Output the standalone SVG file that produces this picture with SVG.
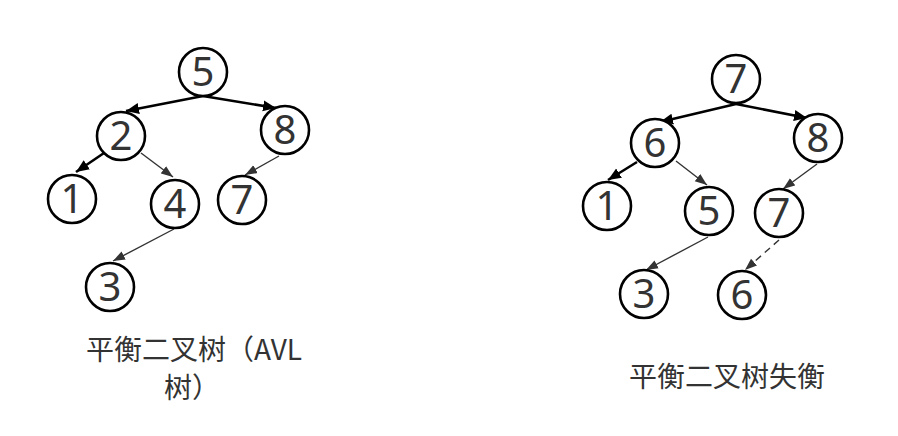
<svg xmlns="http://www.w3.org/2000/svg" width="898" height="436" viewBox="0 0 898 436">
<style>
.n circle{fill:#fff;stroke:#000;stroke-width:2.6}
.n text{font-family:"Noto Sans","Open Sans",sans-serif;font-size:40px;fill:#333;text-anchor:middle}
.thick{stroke:#000;stroke-width:2.6;fill:none;marker-end:url(#ak)}
.thin{stroke:#333;stroke-width:1.4;fill:none;marker-end:url(#ag)}
.dash{stroke-dasharray:7,5}
.lbl{font-family:"Noto Sans CJK SC","Noto Sans",sans-serif;font-size:28px;fill:#333;text-anchor:middle}
</style>
<defs>
<marker id="ak" markerUnits="userSpaceOnUse" markerWidth="14" markerHeight="12" refX="13" refY="6" orient="auto" viewBox="0 0 14 12"><path d="M0,0.5 L13,6 L0,11.5 z" fill="#000"/></marker>
<marker id="ag" markerUnits="userSpaceOnUse" markerWidth="13" markerHeight="10" refX="12" refY="5" orient="auto" viewBox="0 0 13 10"><path d="M0,0.5 L12,5 L0,9.5 z" fill="#333"/></marker>
</defs>
<rect width="898" height="436" fill="#fff"/>
<g id="connectors">
<line class="thick" x1="203" y1="96" x2="126" y2="111"/>
<line class="thick" x1="203" y1="96" x2="276" y2="108"/>
<line class="thick" x1="104" y1="153" x2="76" y2="172"/>
<line class="thin" x1="141" y1="153" x2="173" y2="177"/>
<line class="thin" x1="279" y1="156" x2="245" y2="175"/>
<line class="thin" x1="174" y1="229" x2="113" y2="261"/>
<line class="thick" x1="736" y1="104" x2="660" y2="122"/>
<line class="thick" x1="736" y1="104" x2="807" y2="118"/>
<line class="thick" x1="637" y1="162" x2="608" y2="180"/>
<line class="thin" x1="676" y1="161" x2="707" y2="185"/>
<line class="thin" x1="817" y1="164" x2="783" y2="189"/>
<line class="thin dash" x1="779" y1="240" x2="745" y2="270"/>
<line class="thin" x1="708" y1="237" x2="646" y2="270"/>
</g>
<g id="L5" class="n"><circle cx="203" cy="72" r="24"/><text x="203" y="86">5</text></g>
<g id="L2" class="n"><circle cx="121" cy="136" r="24"/><text x="121" y="150">2</text></g>
<g id="L8" class="n"><circle cx="285" cy="130" r="24"/><text x="285" y="144">8</text></g>
<g id="L1" class="n"><circle cx="72" cy="199" r="24"/><text x="72" y="213">1</text></g>
<g id="L4" class="n"><circle cx="175" cy="204" r="24"/><text x="175" y="218">4</text></g>
<g id="L7" class="n"><circle cx="242" cy="200" r="24"/><text x="242" y="214">7</text></g>
<g id="L3" class="n"><circle cx="110" cy="287" r="24"/><text x="110" y="301">3</text></g>
<g id="R7" class="n"><circle cx="736" cy="79" r="24"/><text x="736" y="93">7</text></g>
<g id="R6" class="n"><circle cx="655" cy="143" r="24"/><text x="655" y="157">6</text></g>
<g id="R8" class="n"><circle cx="818" cy="138" r="24"/><text x="818" y="152">8</text></g>
<g id="R1" class="n"><circle cx="607" cy="206" r="24"/><text x="607" y="220">1</text></g>
<g id="R5" class="n"><circle cx="709" cy="211" r="24"/><text x="709" y="225">5</text></g>
<g id="R7b" class="n"><circle cx="779" cy="213" r="24"/><text x="779" y="227">7</text></g>
<g id="R3" class="n"><circle cx="644" cy="294" r="24"/><text x="644" y="308">3</text></g>
<g id="R6b" class="n"><circle cx="742" cy="295" r="24"/><text x="742" y="309">6</text></g>
<g id="labels">
<text class="lbl" x="194" y="360">平衡二叉树（AVL</text>
<text class="lbl" x="192" y="398">树）</text>
<text class="lbl" x="727" y="387">平衡二叉树失衡</text>
</g>
</svg>
